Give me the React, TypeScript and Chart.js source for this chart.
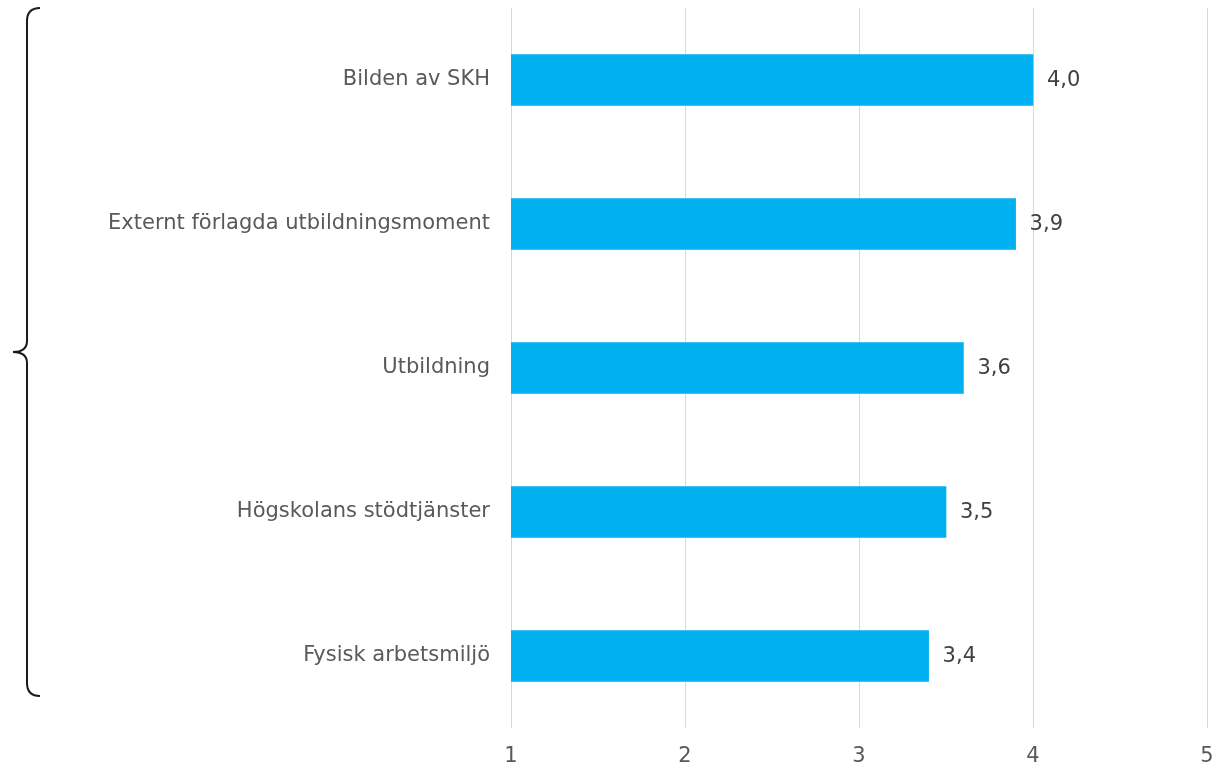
import React, { useEffect, useRef } from "react";
import { Chart, registerables } from "chart.js";

Chart.register(...registerables);

const categories = [
  "Bilden av SKH",
  "Externt förlagda utbildningsmoment",
  "Utbildning",
  "Högskolans stödtjänster",
  "Fysisk arbetsmiljö",
];
const values = [4.0, 3.9, 3.6, 3.5, 3.4];
const xTicks = [1, 2, 3, 4, 5];

const FONT = "'DejaVu Sans', Verdana, sans-serif";

const valueLabels = {
  id: "valueLabels",
  afterDatasetsDraw(chart: any) {
    const { ctx } = chart;
    const meta = chart.getDatasetMeta(0);
    ctx.save();
    ctx.font = `21px ${FONT}`;
    ctx.fillStyle = "#404040";
    ctx.textAlign = "left";
    ctx.textBaseline = "middle";
    meta.data.forEach((el: any, i: number) => {
      ctx.fillText(values[i].toFixed(1).replace(".", ","), el.x + 14, el.y + 1);
    });
    ctx.restore();
  },
};

const brace = {
  id: "brace",
  afterDraw(chart: any) {
    const { ctx } = chart;
    ctx.save();
    ctx.strokeStyle = "#1a1a1a";
    ctx.lineWidth = 2;
    ctx.beginPath();
    ctx.moveTo(40, 8);
    ctx.quadraticCurveTo(27, 8, 27, 21);
    ctx.lineTo(27, 341);
    ctx.quadraticCurveTo(27, 352, 13, 352);
    ctx.quadraticCurveTo(27, 352, 27, 363);
    ctx.lineTo(27, 683);
    ctx.quadraticCurveTo(27, 696, 40, 696);
    ctx.stroke();
    ctx.restore();
  },
};

const zeroPad = (s: any) => {
  s.paddingTop = 0;
  s.paddingBottom = 0;
  s.paddingLeft = 0;
  s.paddingRight = 0;
};

export default function App() {
  const ref = useRef<HTMLCanvasElement | null>(null);
  useEffect(() => {
    if (!ref.current) return;
    const chart = new Chart(ref.current, {
      type: "bar",
      data: {
        labels: categories,
        datasets: [
          {
            data: values,
            backgroundColor: "#00B0F0",
            barThickness: 51,
          },
        ],
      },
      options: {
        indexAxis: "y",
        animation: false,
        responsive: true,
        maintainAspectRatio: false,
        layout: { padding: { top: 8, right: 20, bottom: 0, left: 0 } },
        plugins: { legend: { display: false }, tooltip: { enabled: false } },
        scales: {
          x: {
            min: 1,
            max: 5,
            afterFit: (s: any) => {
              s.height = 40;
              zeroPad(s);
            },
            afterBuildTicks: (s: any) => {
              s.ticks = xTicks.map((v) => ({ value: v }));
            },
            border: { display: false },
            grid: { color: "#d9d9d9", lineWidth: 1, drawTicks: false },
            ticks: {
              padding: 16,
              color: "#595959",
              font: { family: FONT, size: 21 },
            },
          },
          y: {
            afterFit: (s: any) => {
              s.width = 511;
              zeroPad(s);
            },
            border: { display: false },
            grid: { display: false, drawTicks: false },
            ticks: {
              padding: 21,
              color: "#595959",
              font: { family: FONT, size: 21 },
            },
          },
        },
      },
      plugins: [valueLabels, brace],
    });
    return () => chart.destroy();
  }, []);
  return (
    <div style={{ position: "fixed", left: 0, top: 0, width: 1227, height: 768, background: "#fff" }}>
      <canvas ref={ref} />
    </div>
  );
}
